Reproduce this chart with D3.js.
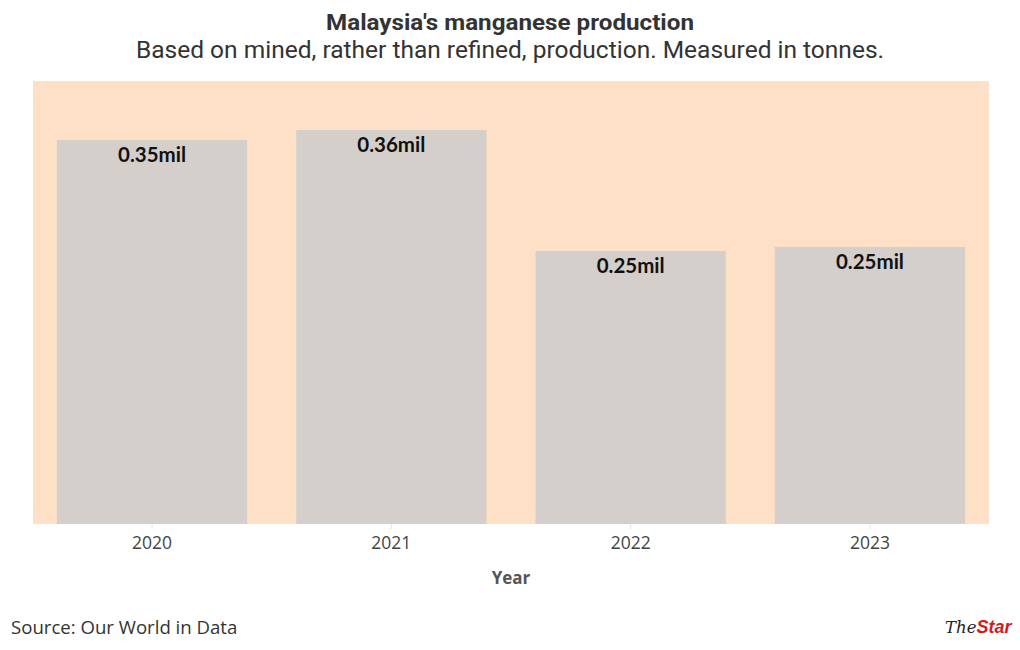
<!DOCTYPE html>
<html><head><meta charset="utf-8">
<script src="https://cdn.jsdelivr.net/npm/d3@7"></script>
<style>body{margin:0;background:#fff}svg{display:block}</style>
</head><body>
<svg id="c" width="1020" height="650"></svg>
<script>
const years = ["2020", "2021", "2022", "2023"];
const production = [346700, 355700, 246500, 250100];
const labels = ["0.35mil", "0.36mil", "0.25mil", "0.25mil"];
const yMax = 400000;

const svg = d3.select("#c");
const m = {l: 33, r: 31, t: 81, b: 126};
const W = 1020, H = 650;
const x = d3.scaleBand().domain(years).range([m.l, W - m.r]).paddingInner(0.205).paddingOuter(0.1);
const y = d3.scaleLinear().domain([0, yMax]).range([H - m.b, m.t]);

svg.append("rect").attr("x", m.l).attr("y", m.t).attr("width", W - m.l - m.r).attr("height", H - m.b - m.t).attr("fill", "#fde0c5");

svg.selectAll("rect.bar").data(years).join("rect").attr("class", "bar")
  .attr("x", d => x(d)).attr("width", x.bandwidth())
  .attr("y", (d, i) => y(production[i])).attr("height", (d, i) => y(0) - y(production[i]))
  .attr("fill", "#d4cfca");

svg.selectAll("text.val").data(years).join("text").attr("class", "val")
  .attr("x", d => x(d) + x.bandwidth() / 2).attr("y", (d, i) => y(production[i]) + 22)
  .attr("text-anchor", "middle").attr("font-family", "Lato, sans-serif").attr("font-weight", "bold")
  .attr("font-size", 20.5).attr("fill", "#111").text((d, i) => labels[i]);

const ax = svg.append("g").attr("transform", `translate(0,${H - m.b})`)
  .call(d3.axisBottom(x).tickSize(5).tickPadding(8));
ax.select(".domain").remove();
ax.selectAll("line").attr("stroke", "#e4e4e4");
ax.selectAll("text").attr("font-family", "'Open Sans', sans-serif").attr("font-size", 17.5).attr("fill", "#444");

svg.append("text").attr("x", 511).attr("y", 584).attr("text-anchor", "middle")
  .attr("font-family", "'Open Sans', sans-serif").attr("font-weight", "bold").attr("font-size", 17).attr("fill", "#555").text("Year");

svg.append("text").attr("x", 510).attr("y", 30).attr("text-anchor", "middle")
  .attr("font-family", "Roboto, sans-serif").attr("font-weight", "bold").attr("font-size", 22.5).attr("fill", "#333")
  .attr("textLength", 368).attr("lengthAdjust", "spacingAndGlyphs")
  .text("Malaysia's manganese production");
svg.append("text").attr("x", 510).attr("y", 58).attr("text-anchor", "middle")
  .attr("font-family", "Roboto, sans-serif").attr("font-size", 23).attr("fill", "#333")
  .attr("textLength", 748).attr("lengthAdjust", "spacingAndGlyphs")
  .text("Based on mined, rather than refined, production. Measured in tonnes.");

svg.append("text").attr("x", 11).attr("y", 634)
  .attr("font-family", "'Open Sans', sans-serif").attr("font-size", 18.6).attr("fill", "#333").text("Source: Our World in Data");

const logo = svg.append("text").attr("x", 945).attr("y", 633).attr("font-style", "italic");
logo.append("tspan").attr("font-family", "'DejaVu Serif', serif").attr("font-size", 16.5).attr("fill", "#222").text("The");
logo.append("tspan").attr("font-family", "'Liberation Sans', sans-serif").attr("font-weight", "bold").attr("font-size", 18).attr("fill", "#d71920").text("Star");
</script>
</body></html>
